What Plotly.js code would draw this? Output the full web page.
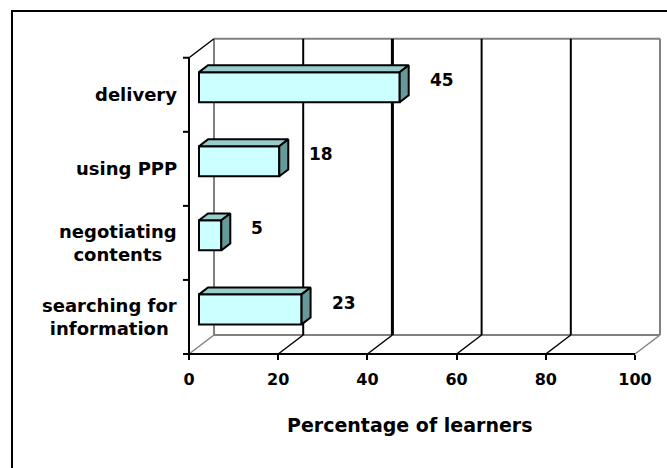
<!DOCTYPE html>
<html><head><meta charset="utf-8">
<script src="https://cdn.plot.ly/plotly-3.0.1.min.js"></script>
<style>
html,body{margin:0;padding:0;background:#fff;overflow:hidden;width:667px;height:468px;}
#wrap{position:relative;width:667px;height:468px;overflow:hidden;}
#chart{width:667px;height:468px;}
#frame{position:absolute;left:11px;top:10px;width:700px;height:500px;border-left:2px solid #000;border-top:2px solid #000;pointer-events:none;}
</style>
</head><body><div id="wrap"><div id="chart"></div><div id="frame"></div></div>
<script>
// ---- data ----
const categories = ['searching for\ninformation', 'negotiating\ncontents', 'using PPP', 'delivery'];
const values = [23, 5, 18, 45];
const xTickValues = [0, 20, 40, 60, 80, 100];
const xTickLabels = ['0', '20', '40', '60', '80', '100'];
const xAxisTitle = 'Percentage of learners';

// ---- layout geometry ----
const W = 667, H = 468;
const M = {l: 189, r: 3, t: 37, b: 114};
const XMAX = 106.5, YMIN = -0.5, YMAX = 3.78;
const plotW = W - M.l - M.r, plotH = H - M.t - M.b;
const pxPerX = plotW / XMAX, pxPerY = plotH / (YMAX - YMIN);
const DX = 25 / pxPerX, DY = 19 / pxPerY;      // depth offset of the 3D box
const D0 = 0.4, D1 = 0.76, HALF = 0.203;       // bar depth range and half thickness
const n = categories.length;
const XEND = xTickValues[xTickValues.length - 1];
const YTOP = n - 0.5;

const px = v => v / XMAX;                       // data -> paper
const py = y => (y - YMIN) / (YMAX - YMIN);
const FONT = 'DejaVu Sans';
const GRAY = '#808080';

const shapes = [];
function seg(x0, y0, x1, y1, color, width) {
  shapes.push({type: 'line', xref: 'paper', yref: 'paper', x0: px(x0), y0: py(y0), x1: px(x1), y1: py(y1),
    line: {color: color, width: width}, layer: 'below'});
}
// back wall
seg(DX, YMIN + DY, DX, YTOP + DY, GRAY, 2);
seg(XEND + DX, YMIN + DY, XEND + DX, YTOP + DY, GRAY, 2);
seg(DX, YTOP + DY, XEND + DX, YTOP + DY, GRAY, 2);
seg(DX, YMIN + DY, XEND + DX, YMIN + DY, GRAY, 2);
xTickValues.forEach(v => {
  if (v !== 0 && v !== XEND) seg(v + DX, YMIN + DY, v + DX, YTOP + DY, '#000', v === 40 ? 3 : 2);
});
// floor diagonals
xTickValues.forEach(v => {
  seg(v, YMIN, v + DX, YMIN + DY, (v === 0 || v === XEND) ? GRAY : '#000', 1.5);
});
// left wall top diagonal
seg(0, YTOP, DX, YTOP + DY, '#000', 1.5);
// front axes
seg(0, YMIN, 0, YTOP, '#000', 2);
seg(0, YMIN, XEND, YMIN, '#000', 2);
for (let k = 0; k <= n; k++) {
  shapes.push({type: 'line', xref: 'paper', yref: 'paper', x0: -6 / plotW, x1: 0, y0: py(k - 0.5), y1: py(k - 0.5),
    line: {color: '#000', width: 2}});
}

// ---- traces ----
const traces = [];
traces.push({
  type: 'bar', orientation: 'h',
  x: values, y: categories.map((c, i) => i + D0 * DY), base: D0 * DX,
  width: 2 * HALF,
  marker: {color: '#CCFFFF', line: {color: '#000', width: 2}},
  hoverinfo: 'skip', showlegend: false
});
values.forEach((v, i) => {
  const yc0 = i + D0 * DY, yc1 = i + D1 * DY;
  const xa = D0 * DX, xb = D1 * DX;
  traces.push({
    type: 'scatter', mode: 'lines', fill: 'toself', fillcolor: '#99CCCC',
    x: [xa, v + xa, v + xb, xb, xa],
    y: [yc0 + HALF, yc0 + HALF, yc1 + HALF, yc1 + HALF, yc0 + HALF],
    line: {color: '#000', width: 2}, hoverinfo: 'skip', showlegend: false
  });
  traces.push({
    type: 'scatter', mode: 'lines', fill: 'toself', fillcolor: '#669999',
    x: [v + xa, v + xa, v + xb, v + xb, v + xa],
    y: [yc0 - HALF, yc0 + HALF, yc1 + HALF, yc1 - HALF, yc0 - HALF],
    line: {color: '#000', width: 2}, hoverinfo: 'skip', showlegend: false
  });
});

// ---- annotations ----
const annotations = [];
values.forEach((v, i) => {
  annotations.push({x: v + D1 * DX, y: i + D1 * DY, xref: 'x', yref: 'y', xanchor: 'left', yanchor: 'middle',
    xshift: 19, text: String(v), showarrow: false,
    font: {family: FONT, size: 17, color: '#000', weight: 'bold'}});
});
categories.forEach((c, i) => {
  annotations.push({x: 0, y: i, xref: 'x', yref: 'y', xanchor: 'right', yanchor: 'middle', align: 'center',
    xshift: -10, text: c.split('\n').join('<br>'), showarrow: false,
    font: {family: FONT, size: 18, color: '#000', weight: 'bold'}});
});
annotations.push({x: XEND / 2, y: py(YMIN) - 71 / plotH, xref: 'x', yref: 'paper', xanchor: 'center', yanchor: 'middle',
  xshift: -3, text: xAxisTitle, showarrow: false,
  font: {family: FONT, size: 19, color: '#000', weight: 'bold'}});

const layout = {
  width: W, height: H, margin: M,
  paper_bgcolor: '#fff', plot_bgcolor: 'rgba(0,0,0,0)',
  showlegend: false, barmode: 'overlay',
  xaxis: {range: [0, XMAX], tickvals: xTickValues, ticktext: xTickLabels,
    ticks: 'outside', ticklen: 5, tickwidth: 2, tickcolor: '#000',
    showgrid: false, zeroline: false, showline: false, ticklabelstandoff: 6,
    tickfont: {family: FONT, size: 16, color: '#000', weight: 'bold'}, fixedrange: true},
  yaxis: {range: [YMIN, YMAX], showticklabels: false, showgrid: false, zeroline: false,
    showline: false, ticks: '', fixedrange: true},
  shapes: shapes, annotations: annotations
};
Plotly.newPlot('chart', traces, layout, {displayModeBar: false, staticPlot: true});
</script></body></html>
